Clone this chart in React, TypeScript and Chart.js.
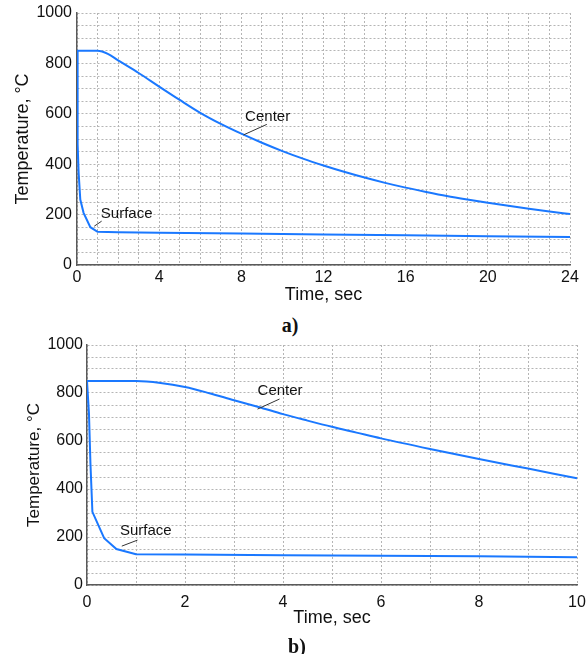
import React, { useEffect, useRef } from 'react';
import { Chart, registerables } from 'chart.js';

Chart.register(...registerables);

const FONT = "'Liberation Sans', Arial, Helvetica, sans-serif";
const LINE_COLOR = '#1a78ff';

// ---------- chart a) 0-24 s ----------
const centerA_t = [0, 0.5, 1, 1.5, 2, 3, 4, 5, 6, 7, 8, 9, 10, 11, 12, 13, 14, 15, 16, 17, 18, 19, 20, 21, 22, 23, 24];
const centerA_T = [850, 850, 850, 838, 812, 762, 708, 655, 604, 560, 521, 485, 452, 422, 395, 370, 347, 326, 307, 290, 274, 260, 247, 235, 223, 212, 202];
const surfaceA_t = [0, 0.02, 0.04, 0.08, 0.16, 0.32, 0.65, 1, 2, 4, 8, 12, 16, 20, 24];
const surfaceA_T = [850, 700, 480, 365, 260, 207, 150, 132, 130, 128, 125, 121, 118, 114, 111];

// ---------- chart b) 0-10 s ----------
const centerB_t = [0, 0.5, 1, 1.5, 2, 2.5, 3, 3.5, 4, 4.5, 5, 5.5, 6, 7, 8, 9, 10];
const centerB_T = [850, 850, 850, 842, 825, 799, 770, 742, 712, 685, 659, 635, 611, 567, 525, 485, 445];
const surfaceB_t = [0, 0.04, 0.07, 0.11, 0.35, 0.6, 1, 2, 4, 6, 8, 10];
const surfaceB_T = [850, 715, 507, 305, 195, 150, 128, 127, 124, 122, 120, 116];

const yTickValues = [0, 200, 400, 600, 800, 1000];
const xTicksA = [0, 4, 8, 12, 16, 20, 24];
const xTicksB = [0, 2, 4, 6, 8, 10];

const X_TITLE = 'Time, sec';
const Y_TITLE = 'Temperature, \u00B0C';

const pts = (t: number[], v: number[]) => t.map((x, i) => ({ x, y: v[i] }));

const notesPlugin = {
  id: 'notes',
  afterDatasetsDraw(chart: any, _args: any, opts: any) {
    const { ctx } = chart;
    const x = chart.scales.x;
    const y = chart.scales.y;
    (opts.items || []).forEach((n: any) => {
      ctx.save();
      ctx.strokeStyle = '#333';
      ctx.lineWidth = 1;
      ctx.beginPath();
      ctx.moveTo(x.getPixelForValue(n.x1), y.getPixelForValue(n.y1));
      ctx.lineTo(x.getPixelForValue(n.x2), y.getPixelForValue(n.y2));
      ctx.stroke();
      ctx.font = `15px ${FONT}`;
      ctx.fillStyle = '#111';
      ctx.textAlign = 'center';
      ctx.textBaseline = 'middle';
      ctx.fillText(n.text, x.getPixelForValue(n.tx), y.getPixelForValue(n.ty));
      ctx.restore();
    });
  },
};

interface Cfg {
  xMax: number;
  xLabels: number[];
  yWidth: number;
  xHeight: number;
  xTickPad: number;
  yTickPad: number;
  yTitleSize: number;
  yTitlePad: number;
  padding: { top: number; right: number; bottom: number; left: number };
  center: { x: number; y: number }[];
  surface: { x: number; y: number }[];
  notes: any[];
}

function buildConfig(c: Cfg): any {
  const grid = { color: '#b5b5b5', lineWidth: 1, drawTicks: false };
  const border = { display: true, color: '#5a5a5a', width: 1.5, dash: [2, 2] };
  return {
    type: 'line',
    data: {
      datasets: [
        {
          label: 'Center',
          data: c.center,
          borderColor: LINE_COLOR,
          borderWidth: 2,
          pointRadius: 0,
          fill: false,
          cubicInterpolationMode: 'monotone',
        },
        {
          label: 'Surface',
          data: c.surface,
          borderColor: LINE_COLOR,
          borderWidth: 2,
          pointRadius: 0,
          fill: false,
          tension: 0,
        },
      ],
    },
    options: {
      responsive: false,
      animation: false,
      events: [],
      layout: { padding: c.padding },
      plugins: {
        legend: { display: false },
        tooltip: { enabled: false },
        notes: { items: c.notes },
      },
      scales: {
        x: {
          type: 'linear',
          min: 0,
          max: c.xMax,
          grid,
          border,
          afterFit: (s: any) => {
            s.height = c.xHeight;
            s.paddingLeft = 0;
            s.paddingRight = 0;
          },
          ticks: {
            stepSize: 1,
            autoSkip: false,
            maxRotation: 0,
            padding: c.xTickPad,
            color: '#111',
            font: { family: FONT, size: 16 },
            callback: (v: any) => (c.xLabels.includes(Number(v)) ? String(v) : ''),
          },
          title: {
            display: true,
            text: X_TITLE,
            color: '#111',
            font: { family: FONT, size: 18 },
            padding: { top: 0, bottom: 0 },
          },
        },
        y: {
          type: 'linear',
          min: 0,
          max: 1000,
          grid,
          border,
          afterFit: (s: any) => {
            s.width = c.yWidth;
            s.paddingTop = 0;
            s.paddingBottom = 0;
          },
          ticks: {
            stepSize: 50,
            autoSkip: false,
            padding: c.yTickPad,
            color: '#111',
            font: { family: FONT, size: 16 },
            callback: (v: any) => (yTickValues.includes(Number(v)) ? String(v) : ''),
          },
          title: {
            display: true,
            text: Y_TITLE,
            color: '#111',
            font: { family: FONT, size: c.yTitleSize },
            padding: { top: c.yTitlePad, bottom: 0 },
          },
        },
      },
    },
    plugins: [notesPlugin],
  };
}

function ChartCanvas({ cfg, top, height }: { cfg: Cfg; top: number; height: number }) {
  const ref = useRef<HTMLCanvasElement | null>(null);
  useEffect(() => {
    if (!ref.current) return;
    const chart = new Chart(ref.current, buildConfig(cfg));
    return () => chart.destroy();
  }, []);
  return (
    <canvas
      ref={ref}
      width={586}
      height={height}
      style={{ position: 'absolute', left: 0, top, width: 586, height }}
    />
  );
}

const cfgA: Cfg = {
  xMax: 24,
  xLabels: xTicksA,
  yWidth: 77,
  xHeight: 41,
  xTickPad: 3,
  yTickPad: 5,
  yTitleSize: 18,
  yTitlePad: 12,
  padding: { top: 13, right: 16, bottom: 4, left: 0 },
  center: pts(centerA_t, centerA_T),
  surface: pts(surfaceA_t, surfaceA_T),
  notes: [
    { text: 'Center', tx: 9.28, ty: 588, x1: 9.24, y1: 558, x2: 8.1, y2: 516 },
    { text: 'Surface', tx: 2.42, ty: 204, x1: 1.2, y1: 174, x2: 0.84, y2: 154 },
  ],
};

const cfgB: Cfg = {
  xMax: 10,
  xLabels: xTicksB,
  yWidth: 87,
  xHeight: 44,
  xTickPad: 8,
  yTickPad: 4,
  yTitleSize: 17,
  yTitlePad: 24,
  padding: { top: 15, right: 9, bottom: 11, left: 0 },
  center: pts(centerB_t, centerB_T),
  surface: pts(surfaceB_t, surfaceB_T),
  notes: [
    { text: 'Center', tx: 3.94, ty: 808, x1: 3.93, y1: 775, x2: 3.48, y2: 733 },
    { text: 'Surface', tx: 1.2, ty: 226, x1: 1.03, y1: 187, x2: 0.71, y2: 162 },
  ],
};

const capStyle = (x: number, y: number): React.CSSProperties => ({
  position: 'absolute',
  left: x,
  top: y,
  transform: 'translate(-50%, -50%)',
  fontFamily: "'Liberation Serif', 'Times New Roman', serif",
  fontWeight: 'bold',
  fontSize: 20,
  lineHeight: 1,
  whiteSpace: 'nowrap',
  color: '#111',
});

export default function App() {
  return (
    <div style={{ position: 'absolute', left: 0, top: 0, width: 586, height: 654, background: '#fff', overflow: 'hidden' }}>
      <ChartCanvas cfg={cfgA} top={0} height={310} />
      <div style={capStyle(290, 325)}>a)</div>
      <ChartCanvas cfg={cfgB} top={330} height={310} />
      <div style={capStyle(297, 646)}>b)</div>
    </div>
  );
}
